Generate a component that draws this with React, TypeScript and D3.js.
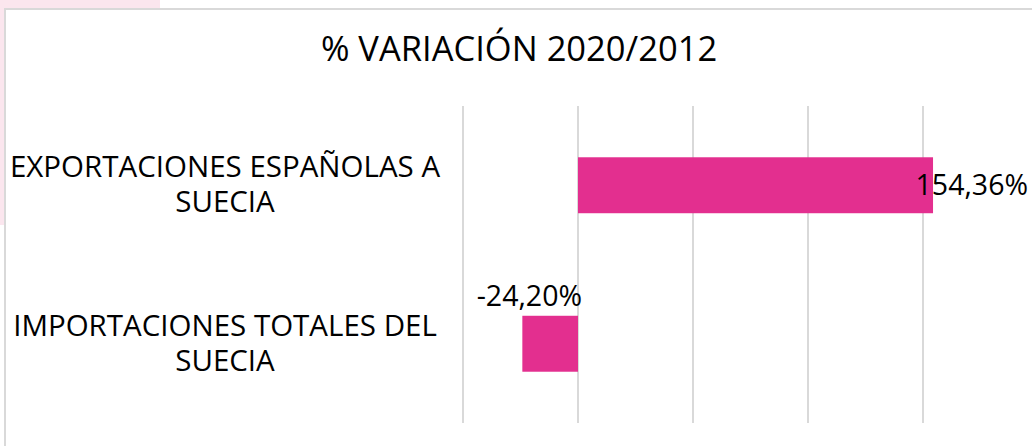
import * as React from "react";
import * as d3 from "d3";

const title = "% VARIACIÓN 2020/2012";
const categories = [
  ["EXPORTACIONES ESPAÑOLAS A", "SUECIA"],
  ["IMPORTACIONES TOTALES DEL", "SUECIA"],
];
const values = [154.36, -24.2];
const valueLabels = ["154,36%", "-24,20%"];
const gridTicks = [-50, 0, 50, 100, 150];

const W = 1032;
const H = 446;
const font = "'Open Sans', 'Noto Sans', sans-serif";

export default function App() {
  const x = d3.scaleLinear().domain([-50, 150]).range([463, 923]);
  const y = d3
    .scaleBand()
    .domain(categories.map((c, i) => String(i)))
    .range([106, 423])
    .paddingInner(0.647)
    .paddingOuter(0.3235);

  return (
    <svg
      width={W}
      height={H}
      style={{ position: "absolute", left: 0, top: 0 }}
      fontFamily={font}
    >
      <rect x={0} y={0} width={W} height={H} fill="#fff" />
      <rect x={0} y={0} width={160} height={225} fill="#fbe6ee" />
      <rect
        x={5}
        y={9}
        width={W + 20}
        height={H + 20}
        fill="#fff"
        stroke="#d9d9d9"
        strokeWidth={2}
      />
      <text x={519} y={61} textAnchor="middle" fontSize={34.5} fill="#000">
        {title}
      </text>
      {gridTicks.map((t) => (
        <line
          key={t}
          x1={x(t)}
          x2={x(t)}
          y1={106}
          y2={423}
          stroke="#d9d9d9"
          strokeWidth={2}
        />
      ))}
      {values.map((v, i) => {
        const y0 = y(String(i))!;
        const bw = y.bandwidth();
        return (
          <rect
            key={i}
            x={x(Math.min(0, v))}
            y={y0}
            width={Math.abs(x(v) - x(0))}
            height={bw}
            fill="#e32f8f"
          />
        );
      })}
      {categories.map((lines, i) => {
        const cy = y(String(i))! + y.bandwidth() / 2;
        return lines.map((l, j) => (
          <text
            key={i + "-" + j}
            x={225}
            y={cy - 8 + j * 35}
            textAnchor="middle"
            fontSize={29.5}
            fill="#000"
          >
            {l}
          </text>
        ));
      })}
      {values.map((v, i) => {
        const y0 = y(String(i))!;
        const bw = y.bandwidth();
        if (v >= 0) {
          const lx = Math.min(x(v) + 100, 1028);
          return (
            <text key={i} x={lx} y={y0 + bw / 2 + 10} textAnchor="end" fontSize={28.5} fill="#000">
              {valueLabels[i]}
            </text>
          );
        }
        return (
          <text key={i} x={x(0) + 4} y={y0 - 10} textAnchor="end" fontSize={28.5} fill="#000">
            {valueLabels[i]}
          </text>
        );
      })}
    </svg>
  );
}
